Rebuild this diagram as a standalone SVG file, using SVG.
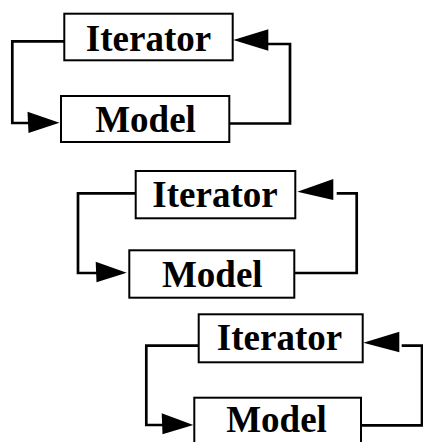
<svg xmlns="http://www.w3.org/2000/svg" width="423" height="442" viewBox="0 0 423 442">
  <style>
    .box { fill: #fff; stroke: #000; stroke-width: 2; }
    .label { font-family: "Liberation Serif", "Times New Roman", serif; font-weight: bold; font-size: 37px; text-anchor: middle; fill: #000; }
    .wire { fill: none; stroke: #000; stroke-width: 2.7; stroke-linejoin: miter; }
    .head { fill: #000; stroke: none; }
  </style>
  <rect width="423" height="442" fill="#fff"/>

  <!-- connectors: each loop runs Iterator -> Model and Model -> Iterator -->
  <g id="connectors">
    <!-- loop 1 -->
    <polyline class="wire" points="64,41.3 12.3,41.3 12.3,123 30,123"/>
    <polygon class="head" points="27.5,111.8 28.5,133 59.5,122.7"/>
    <polyline class="wire" points="229.3,123.5 290,123.5 290,44 266,44"/>
    <polygon class="head" points="268.3,29.3 268.3,50.7 233.3,40"/>

    <!-- loop 2 -->
    <polyline class="wire" points="135.7,193.3 78,193.3 78,273 98,273"/>
    <polygon class="head" points="95.7,261.7 96.5,282.3 126.7,272.7"/>
    <polyline class="wire" points="294.3,273 356.7,273 356.7,193.3 336.7,193.3"/>
    <polygon class="head" points="333.3,179 333.3,200 297.3,191.7"/>

    <!-- loop 3 -->
    <polyline class="wire" points="198.7,345.7 146.3,345.7 146.3,425 164,425"/>
    <polygon class="head" points="161.7,413.3 162.5,434.3 193.3,425"/>
    <polyline class="wire" points="361,425.3 422,425.3 422,345.7 401.7,345.7"/>
    <polygon class="head" points="399.3,331.7 399.3,352.3 363.3,342.7"/>
  </g>

  <g id="iterator1">
    <rect class="box" x="64.3" y="13.7" width="168.4" height="46.6"/>
    <text class="label" x="148.5" y="51">Iterator</text>
  </g>
  <g id="model1">
    <rect class="box" x="61" y="96" width="168.3" height="46"/>
    <text class="label" x="145.5" y="131.7">Model</text>
  </g>

  <g id="iterator2">
    <rect class="box" x="135.7" y="171" width="159.6" height="47.3"/>
    <text class="label" x="215" y="206.7">Iterator</text>
  </g>
  <g id="model2">
    <rect class="box" x="129.3" y="250.3" width="165" height="47.4"/>
    <text class="label" x="212.3" y="286.7">Model</text>
  </g>

  <g id="iterator3">
    <rect class="box" x="198.7" y="314.3" width="164" height="48"/>
    <text class="label" x="279.5" y="350">Iterator</text>
  </g>
  <g id="model3">
    <rect class="box" x="194.3" y="397.7" width="166.7" height="60"/>
    <text class="label" x="276.5" y="431.7">Model</text>
  </g>
</svg>
